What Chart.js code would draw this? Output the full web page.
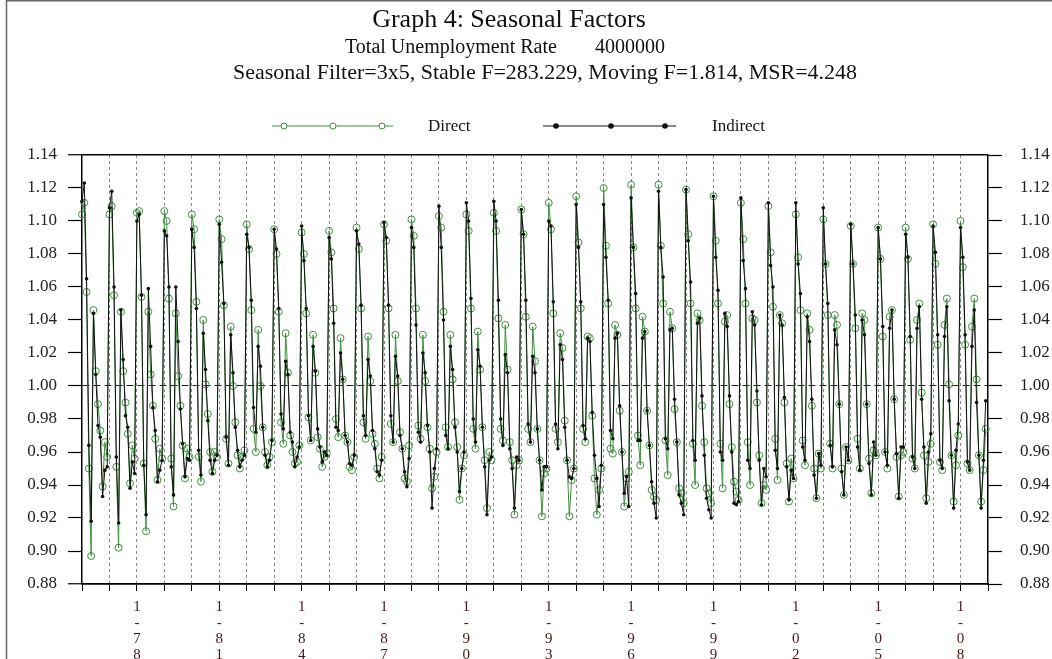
<!DOCTYPE html>
<html>
<head>
<meta charset="utf-8">
<title>Graph 4: Seasonal Factors</title>
<script src="https://cdn.jsdelivr.net/npm/chart.js@4.4.0/dist/chart.umd.min.js"></script>
<style>
  html, body { margin: 0; padding: 0; background: #fff; }
  canvas { display: block; }
</style>
</head>
<body>
<canvas id="chart" width="1052" height="659"></canvas>
<script>
// monthly seasonal factors, Jan 1976 .. Dec 2008 (one row per year)
const startYear = 1976;

const direct = [
  1.104,1.111,1.057,0.950,0.897,1.046,1.009,0.989,0.973,0.939,0.966,0.957, // 1976
  1.104,1.109,1.055,0.951,0.902,1.045,1.009,0.990,0.971,0.941,0.964,0.956, // 1977
  1.105,1.106,1.054,0.953,0.912,1.045,1.007,0.988,0.968,0.943,0.962,0.956, // 1978
  1.106,1.100,1.053,0.956,0.927,1.044,1.006,0.988,0.964,0.944,0.962,0.957, // 1979
  1.104,1.095,1.051,0.957,0.942,1.040,1.001,0.983,0.960,0.948,0.960,0.957, // 1980
  1.101,1.089,1.049,0.968,0.953,1.036,1.000,0.978,0.958,0.950,0.957,0.961, // 1981
  1.098,1.083,1.046,0.974,0.960,1.034,1.000,0.975,0.960,0.952,0.957,0.966, // 1982
  1.095,1.080,1.045,0.978,0.965,1.032,1.008,0.970,0.960,0.953,0.954,0.964, // 1983
  1.093,1.080,1.044,0.981,0.967,1.031,1.008,0.969,0.962,0.951,0.957,0.959, // 1984
  1.094,1.081,1.047,0.980,0.969,1.029,1.004,0.970,0.966,0.951,0.949,0.957, // 1985
  1.096,1.083,1.047,0.978,0.968,1.030,1.003,0.971,0.965,0.950,0.944,0.957, // 1986
  1.098,1.088,1.047,0.977,0.966,1.031,1.003,0.972,0.962,0.944,0.942,0.964, // 1987
  1.101,1.091,1.047,0.976,0.968,1.031,1.003,0.975,0.962,0.938,0.945,0.960, // 1988
  1.103,1.096,1.045,0.975,0.963,1.031,1.004,0.978,0.963,0.931,0.950,0.958, // 1989
  1.104,1.094,1.047,0.974,0.962,1.033,1.010,0.975,0.955,0.926,0.960,0.955, // 1990
  1.105,1.094,1.041,0.974,0.967,1.037,1.010,0.966,0.955,0.922,0.952,0.955, // 1991
  1.107,1.092,1.042,0.974,0.966,1.036,1.015,0.974,0.955,0.921,0.947,0.950, // 1992
  1.111,1.095,1.044,0.974,0.966,1.032,1.023,0.979,0.955,0.921,0.943,0.950, // 1993
  1.115,1.087,1.047,0.974,0.966,1.030,1.029,0.982,0.944,0.922,0.937,0.950, // 1994
  1.120,1.085,1.050,0.962,0.959,1.037,1.031,0.985,0.960,0.927,0.944,0.948, // 1995
  1.122,1.084,1.047,0.970,0.952,1.042,1.033,0.985,0.964,0.937,0.933,0.931, // 1996
  1.122,1.085,1.050,0.967,0.946,1.045,1.035,0.986,0.966,0.938,0.935,0.929, // 1997
  1.119,1.092,1.050,0.965,0.940,1.044,1.040,0.988,0.966,0.938,0.935,0.929, // 1998
  1.115,1.088,1.050,0.965,0.938,1.039,1.043,0.989,0.963,0.942,0.936,0.931, // 1999
  1.111,1.089,1.050,0.966,0.940,1.041,1.040,0.990,0.958,0.929,0.940,0.937, // 2000
  1.109,1.081,1.048,0.968,0.943,1.043,1.038,0.990,0.953,0.930,0.956,0.944, // 2001
  1.104,1.078,1.046,0.967,0.952,1.044,1.034,0.988,0.950,0.932,0.959,0.950, // 2002
  1.101,1.074,1.043,0.965,0.950,1.043,1.037,0.989,0.950,0.934,0.963,0.955, // 2003
  1.097,1.074,1.035,0.968,0.950,1.044,1.040,0.989,0.956,0.935,0.961,0.958, // 2004
  1.096,1.077,1.030,0.960,0.950,1.042,1.046,0.992,0.957,0.933,0.958,0.960, // 2005
  1.096,1.077,1.028,0.956,0.950,1.040,1.050,0.996,0.958,0.932,0.954,0.965, // 2006
  1.098,1.074,1.025,0.954,0.949,1.037,1.053,1.001,0.958,0.930,0.952,0.970, // 2007
  1.100,1.072,1.025,0.953,0.949,1.036,1.053,1.004,0.958,0.930,0.949,0.974  // 2008
];

const indirect = [
  1.112,1.123,1.065,0.964,0.918,1.044,1.007,0.976,0.969,0.933,0.949,0.951, // 1976
  1.108,1.118,1.060,0.957,0.917,1.046,1.016,0.982,0.975,0.938,0.954,0.947, // 1977
  1.100,1.104,1.055,0.952,0.922,1.059,1.024,0.987,0.973,0.942,0.949,0.955, // 1978
  1.094,1.091,1.060,0.951,0.934,1.060,1.027,0.986,0.965,0.945,0.956,0.955, // 1979
  1.095,1.084,1.047,0.961,0.946,1.032,1.010,0.979,0.955,0.947,0.955,0.958, // 1980
  1.098,1.075,1.050,0.969,0.952,1.031,1.008,0.975,0.961,0.951,0.955,0.958, // 1981
  1.092,1.084,1.052,0.987,0.972,1.024,1.012,0.975,0.958,0.951,0.955,0.967, // 1982
  1.095,1.083,1.047,0.983,0.974,1.015,1.007,0.972,0.966,0.951,0.957,0.963, // 1983
  1.097,1.076,1.047,0.982,0.967,1.024,1.009,0.974,0.963,0.954,0.960,0.958, // 1984
  1.090,1.077,1.038,0.975,0.973,1.020,1.004,0.970,0.966,0.953,0.952,0.958, // 1985
  1.094,1.086,1.049,0.982,0.970,1.016,1.006,0.973,0.962,0.948,0.946,0.955, // 1986
  1.099,1.090,1.049,0.982,0.966,1.018,1.006,0.970,0.962,0.948,0.939,0.956, // 1987
  1.096,1.084,1.037,0.972,0.966,1.020,1.008,0.976,0.960,0.926,0.950,0.962, // 1988
  1.109,1.084,1.040,0.970,0.962,1.024,1.010,0.975,0.960,0.936,0.950,0.960, // 1989
  1.111,1.100,1.053,0.980,0.966,1.022,1.012,0.975,0.951,0.922,0.955,0.957, // 1990
  1.112,1.100,1.052,0.980,0.964,1.019,1.008,0.962,0.950,0.926,0.957,0.955, // 1991
  1.107,1.092,1.052,0.977,0.966,1.018,1.008,0.974,0.955,0.937,0.951,0.951, // 1992
  1.100,1.097,1.051,0.977,0.962,1.025,1.016,0.975,0.955,0.945,0.944,0.950, // 1993
  1.110,1.084,1.051,0.976,0.968,1.029,1.027,0.984,0.958,0.944,0.927,0.952, // 1994
  1.110,1.078,1.052,0.973,0.968,1.029,1.032,0.988,0.960,0.935,0.945,0.927, // 1995
  1.114,1.084,1.056,0.967,0.967,1.029,1.033,0.985,0.964,0.942,0.929,0.920, // 1996
  1.118,1.084,1.066,0.968,0.962,1.034,1.035,0.992,0.966,0.934,0.929,0.922, // 1997
  1.119,1.088,1.063,0.967,0.955,1.038,1.041,0.994,0.958,0.932,0.925,0.920, // 1998
  1.115,1.078,1.058,0.960,0.955,1.044,1.036,0.994,0.960,0.929,0.928,0.930, // 1999
  1.114,1.076,1.059,0.955,0.950,1.045,1.037,0.997,0.955,0.928,0.950,0.945, // 2000
  1.111,1.073,1.060,0.961,0.950,1.043,1.037,0.993,0.951,0.931,0.949,0.944, // 2001
  1.111,1.074,1.056,0.963,0.955,1.042,1.027,0.992,0.946,0.932,0.959,0.952, // 2002
  1.108,1.074,1.050,0.964,0.951,1.034,1.025,0.989,0.948,0.934,0.963,0.955, // 2003
  1.098,1.074,1.043,0.963,0.949,1.040,1.031,0.989,0.953,0.934,0.966,0.958, // 2004
  1.096,1.077,1.036,0.960,0.952,1.035,1.046,0.992,0.959,0.932,0.963,0.963, // 2005
  1.092,1.078,1.030,0.957,0.950,1.035,1.048,0.992,0.963,0.929,0.960,0.971, // 2006
  1.097,1.081,1.031,0.955,0.950,1.030,1.048,0.991,0.958,0.926,0.961,0.977, // 2007
  1.096,1.078,1.031,0.954,0.949,1.024,1.046,0.990,0.958,0.926,0.955,0.991  // 2008
];

const tickYears = [1976,1977,1978,1979,1980,1981,1982,1983,1984,1985,1986,1987,
                   1988,1989,1990,1991,1992,1993,1994,1995,1996,1997,1998,1999,
                   2000,2001,2002,2003,2004,2005,2006,2007,2008,2009];
const labelYears = [1978,1981,1984,1987,1990,1993,1996,1999,2002,2005,2008];
const yTicks = [0.88,0.90,0.92,0.94,0.96,0.98,1.00,1.02,1.04,1.06,1.08,1.10,1.12,1.14];

const titleText = 'Graph 4: Seasonal Factors';
const seriesText = ['Total Unemployment Rate', '4000000'];
const statsText = 'Seasonal Filter=3x5, Stable F=283.229, Moving F=1.814, MSR=4.248';

const green = '#3e8f3e';
const black = '#111111';
const serif = '"Liberation Serif", "Times New Roman", serif';

const monthly = vals => vals.map((v, i) => ({ x: startYear + i / 12, y: v }));
const near = (a, b) => Math.abs(a - b) < 1e-6;
const yMin = yTicks[0], yMax = yTicks[yTicks.length - 1];

// titles, legend and the page frame
const decor = {
  id: 'decor',
  afterDraw(chart) {
    const ctx = chart.ctx;
    ctx.save();
    ctx.strokeStyle = '#666';
    ctx.lineWidth = 1.5;
    ctx.beginPath();
    ctx.moveTo(6.5, 659); ctx.lineTo(6.5, 0.75); ctx.lineTo(1052, 0.75);
    ctx.stroke();

    ctx.fillStyle = '#111';
    ctx.textBaseline = 'alphabetic';
    ctx.textAlign = 'center';
    ctx.font = '26px ' + serif;
    ctx.fillText(titleText, 509, 27);
    ctx.font = '20px ' + serif;
    ctx.textAlign = 'left';
    ctx.fillText(seriesText[0], 345, 53);
    ctx.textAlign = 'right';
    ctx.fillText(seriesText[1], 665, 53);
    ctx.textAlign = 'center';
    ctx.font = '22px ' + serif;
    ctx.fillText(statsText, 545, 79);

    // legend
    const ly = 126;
    ctx.lineWidth = 1;
    ctx.strokeStyle = green;
    ctx.beginPath(); ctx.moveTo(272, ly); ctx.lineTo(393, ly); ctx.stroke();
    [284, 333, 382].forEach(x => {
      ctx.beginPath(); ctx.arc(x, ly, 3, 0, Math.PI * 2);
      ctx.fillStyle = '#fff'; ctx.fill(); ctx.stroke();
    });
    ctx.strokeStyle = black;
    ctx.fillStyle = black;
    ctx.beginPath(); ctx.moveTo(543, ly); ctx.lineTo(676, ly); ctx.stroke();
    [556, 611, 665].forEach(x => {
      ctx.beginPath(); ctx.arc(x, ly, 2.8, 0, Math.PI * 2); ctx.fill();
    });
    ctx.fillStyle = '#111';
    ctx.textAlign = 'left';
    ctx.textBaseline = 'middle';
    ctx.font = '17px ' + serif;
    ctx.fillText('Direct', 428, ly + 1);
    ctx.fillText('Indirect', 712, ly + 1);
    ctx.restore();
  }
};

const yTickOpts = {
  autoSkip: false,
  color: '#222',
  font: { family: serif, size: 17 },
  callback: v => v.toFixed(2)
};

new Chart(document.getElementById('chart'), {
  type: 'line',
  data: {
    datasets: [
      {
        label: 'Direct',
        data: monthly(direct),
        borderColor: green,
        borderWidth: 1,
        pointRadius: 3.5,
        pointBorderColor: green,
        pointBackgroundColor: 'rgba(0,0,0,0)',
        pointBorderWidth: 1,
        tension: 0,
        clip: false,
        order: 2
      },
      {
        label: 'Indirect',
        data: monthly(indirect),
        borderColor: black,
        borderWidth: 1,
        pointRadius: 1.8,
        pointBorderWidth: 0,
        pointBackgroundColor: black,
        tension: 0,
        clip: false,
        order: 1
      }
    ]
  },
  options: {
    responsive: false,
    animation: false,
    devicePixelRatio: 1,
    layout: { padding: { top: 155, left: 0, right: 0, bottom: 0 } },
    plugins: { legend: { display: false }, title: { display: false }, tooltip: { enabled: false } },
    scales: {
      x: {
        type: 'linear',
        position: 'bottom',
        min: 1976,
        max: 2009,
        afterBuildTicks: s => { s.ticks = tickYears.map(v => ({ value: v })); },
        afterFit: s => { s.height = 75; },
        grid: {
          color: c => (c.tick && (c.tick.value === 1976 || c.tick.value === 2009)) ? 'rgba(0,0,0,0)' : '#8a8a8a',
          lineWidth: 1,
          tickColor: '#000',
          tickLength: 7,
          tickBorderDash: []
        },
        border: { color: '#000', width: 1.5, dash: [3, 3] },
        ticks: {
          autoSkip: false,
          maxRotation: 0,
          minRotation: 0,
          padding: 8,
          color: '#401818',
          font: { family: serif, size: 15, lineHeight: 1.07 },
          callback: v => labelYears.includes(v) ? ['1', '-', String(v)[2], String(v)[3]] : ''
        }
      },
      y: {
        type: 'linear',
        position: 'left',
        min: yMin,
        max: yMax,
        afterBuildTicks: s => { s.ticks = yTicks.map(v => ({ value: v })); },
        afterFit: s => { s.width = 82; },
        grid: {
          color: c => {
            const v = c.tick ? c.tick.value : 0;
            if (near(v, yMin) || near(v, yMax)) return '#000';
            if (near(v, 1)) return '#222';
            return 'rgba(0,0,0,0)';
          },
          lineWidth: c => (c.tick && (near(c.tick.value, yMin) || near(c.tick.value, yMax))) ? 1.5 : 1,
          tickColor: '#000',
          tickLength: 14,
          tickWidth: 1.2
        },
        border: {
          color: '#000',
          width: 1.5,
          dash: c => (c.tick && near(c.tick.value, 1)) ? [7, 4] : []
        },
        ticks: Object.assign({ padding: 11 }, yTickOpts)
      },
      y2: {
        type: 'linear',
        position: 'right',
        min: yMin,
        max: yMax,
        afterBuildTicks: s => { s.ticks = yTicks.map(v => ({ value: v })); },
        afterFit: s => { s.width = 64; },
        grid: {
          drawOnChartArea: false,
          color: '#000',
          tickColor: '#000',
          tickLength: 14,
          tickWidth: 1.2
        },
        border: { color: '#000', width: 1.5 },
        ticks: Object.assign({ padding: 18 }, yTickOpts)
      }
    }
  },
  plugins: [decor]
});
</script>
</body>
</html>
